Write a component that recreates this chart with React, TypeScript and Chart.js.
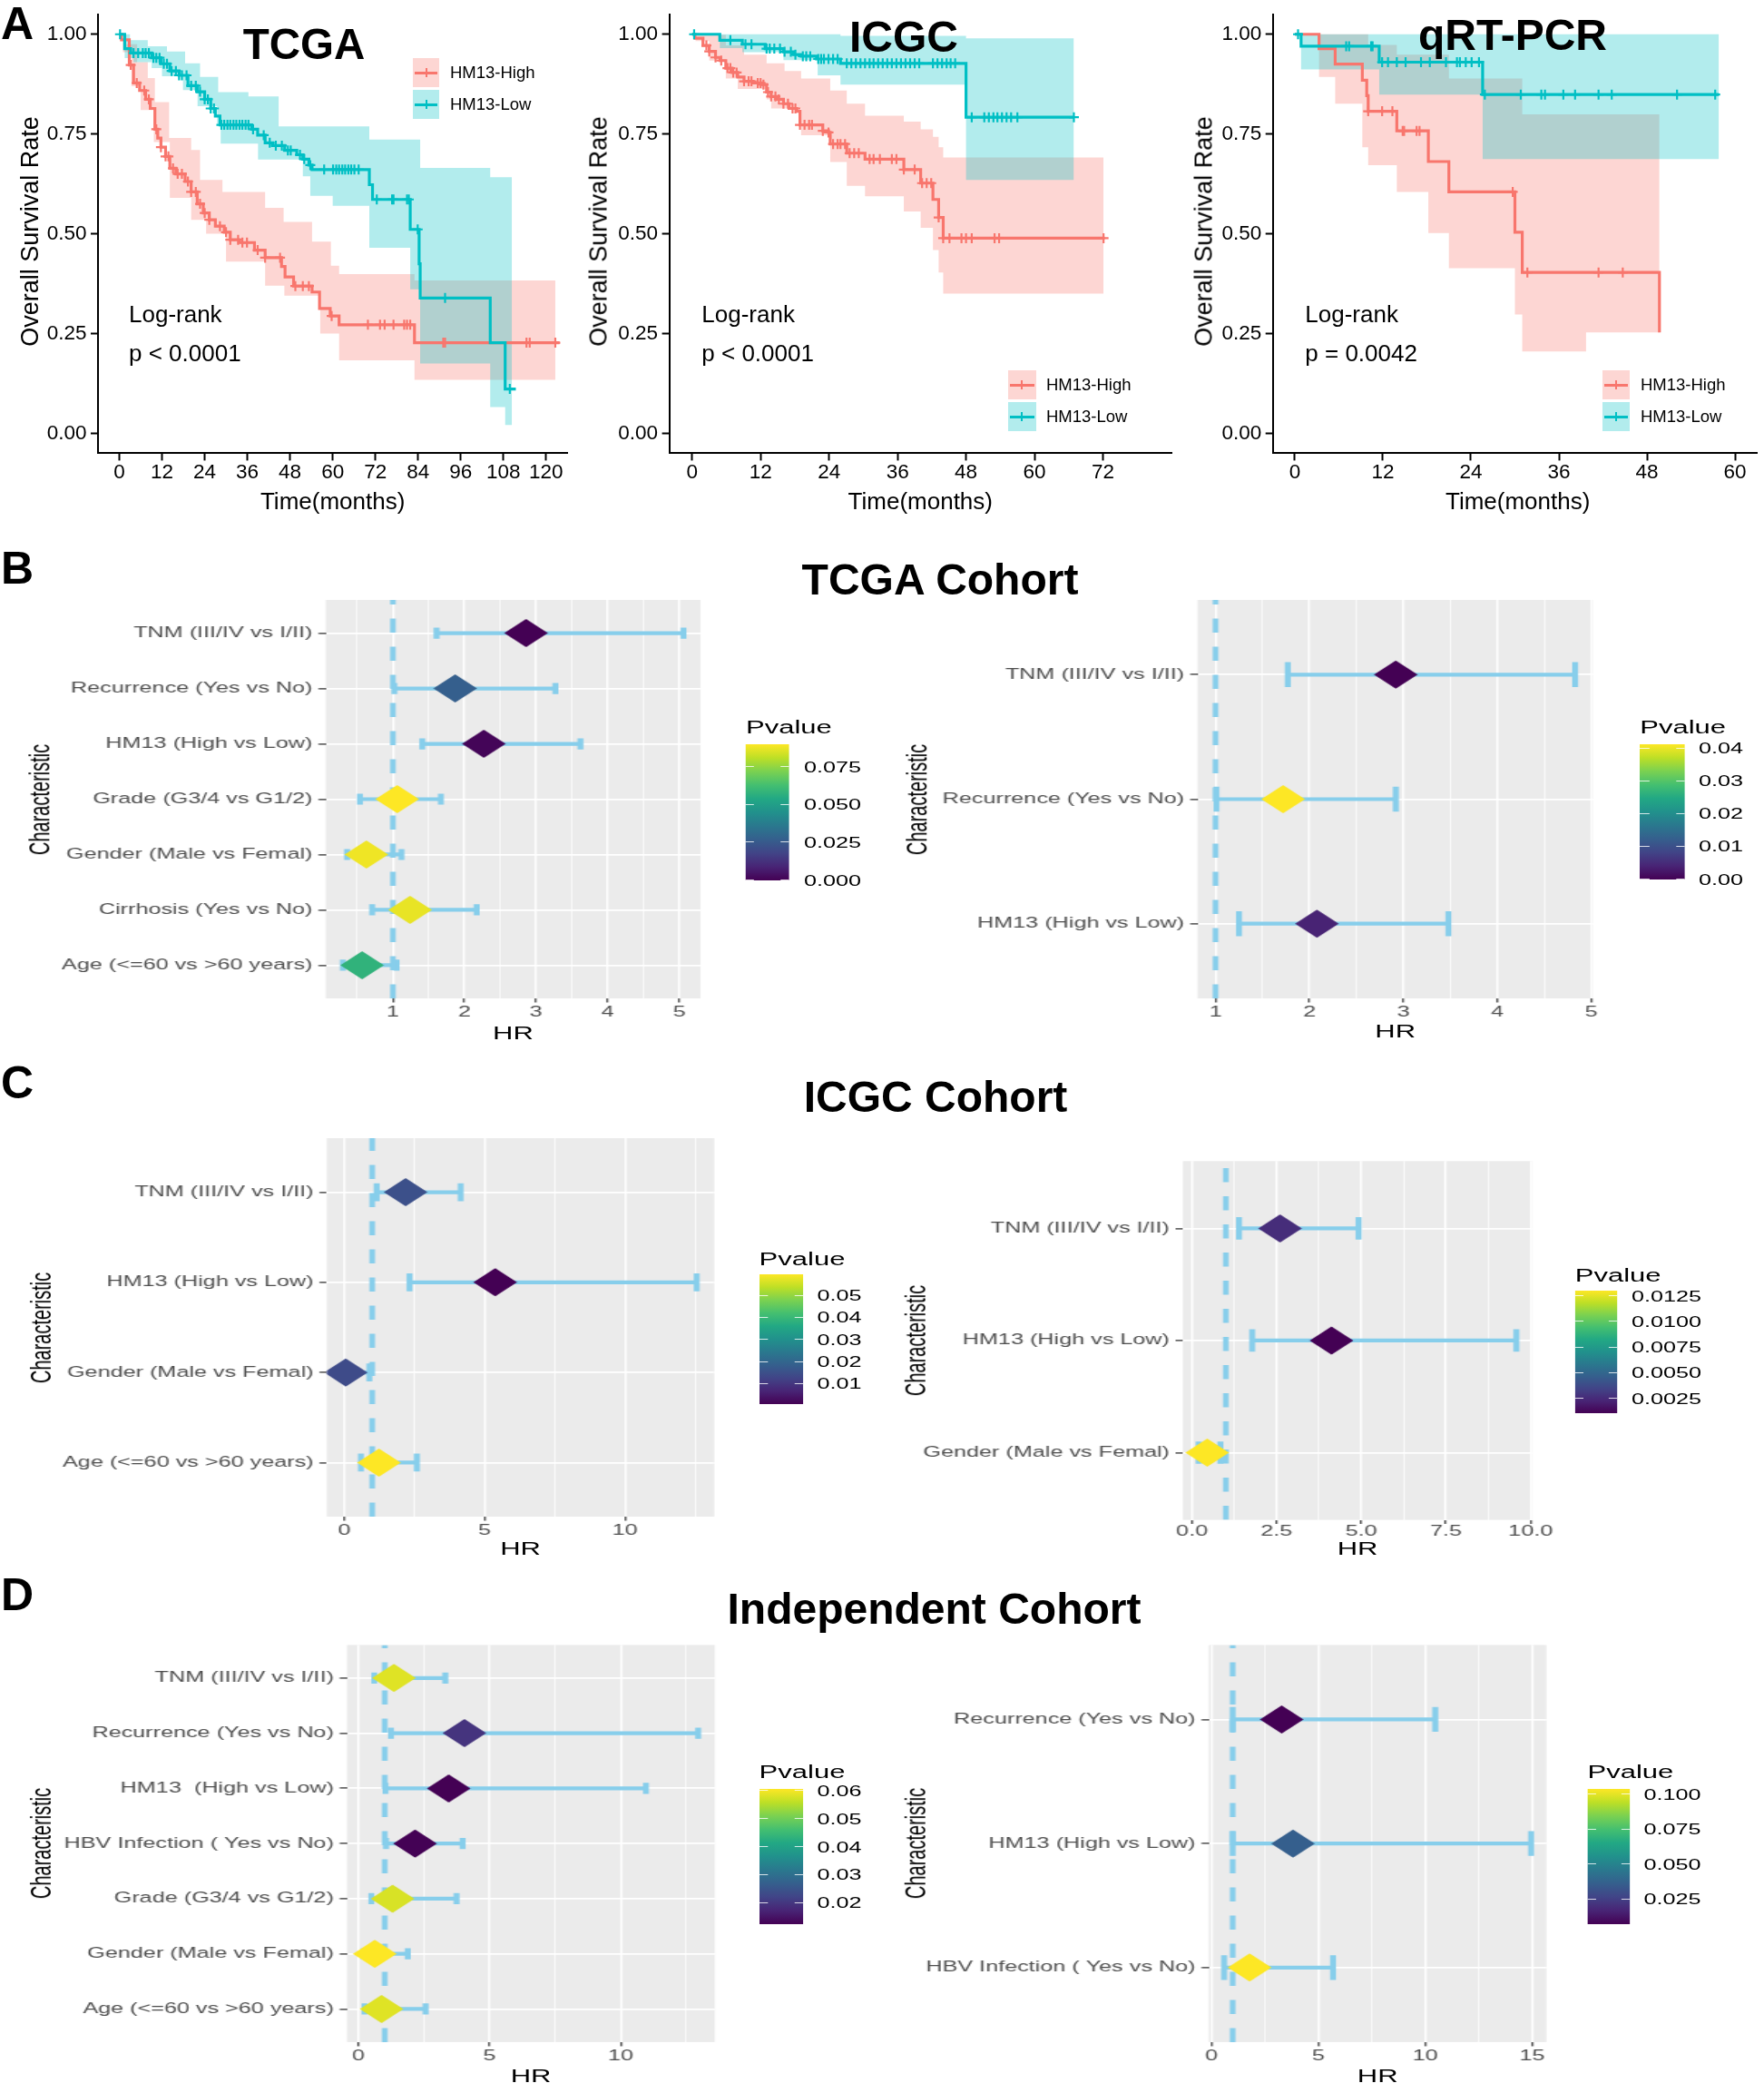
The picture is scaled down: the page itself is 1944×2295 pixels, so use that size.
import React, { useEffect, useRef } from 'react';
import { Chart, registerables } from 'chart.js';

Chart.register(...registerables);

const FONT = '"Liberation Sans", Arial, Helvetica, sans-serif';
const RED = '#F8766D';
const TEAL = '#00BFC4';
const RED_FILL = 'rgba(248,118,109,0.3)';
const TEAL_FILL = 'rgba(0,191,196,0.3)';
const SKY = '#87CEEB';
const SX = 1.55;
const STEP = 'before';

// ---------------- Kaplan-Meier data ----------------
const survTicks = [0, 0.25, 0.5, 0.75, 1];
const tcgaMonthTicks = [0, 12, 24, 36, 48, 60, 72, 84, 96, 108, 120];
const icgcMonthTicks = [0, 12, 24, 36, 48, 60, 72];
const qpcrMonthTicks = [0, 12, 24, 36, 48, 60];
const groupNames = ['HM13-High', 'HM13-Low'];

const tcgaHighTime = [0, 0.6, 2.8, 4.0, 5.7, 7.4, 8.7, 10.0, 10.8, 11.7, 13.0, 14.2, 15.9, 18.5, 20.2, 21.9, 23.6, 25.3, 27.0, 29.5, 31.2, 33.8, 38.0, 41.0, 45.6, 46.6, 49.0, 54.2, 56.3, 59.3, 61.8, 83.0, 123.8];
const tcgaHighSurv = [1, 0.986, 0.923, 0.878, 0.859, 0.837, 0.814, 0.762, 0.740, 0.717, 0.694, 0.664, 0.650, 0.631, 0.605, 0.575, 0.552, 0.535, 0.519, 0.504, 0.485, 0.478, 0.459, 0.440, 0.418, 0.392, 0.369, 0.354, 0.313, 0.294, 0.272, 0.227, 0.227];
const tcgaHighUpperTime = [0, 2, 5, 8, 10, 14, 20.2, 22.7, 29, 41, 46.2, 54.2, 59.5, 61.8, 83.0, 122.6];
const tcgaHighUpper = [1, 0.975, 0.93, 0.89, 0.83, 0.74, 0.71, 0.635, 0.605, 0.565, 0.53, 0.48, 0.42, 0.399, 0.383, 0.383];
const tcgaHighLowerTime = [0, 1, 3.4, 6, 9.7, 14.2, 20.2, 24.4, 30, 41, 46.4, 56.5, 61.8, 83.0, 122.6];
const tcgaHighLower = [1, 0.955, 0.87, 0.81, 0.73, 0.59, 0.535, 0.5, 0.43, 0.37, 0.345, 0.25, 0.183, 0.134, 0.134];
const tcgaHighCensor = [3.2, 4.9, 7.0, 8.3, 10.4, 11.7, 13.0, 13.8, 15.1, 16.4, 17.6, 19.3, 20.2, 21.5, 22.7, 24.0, 25.3, 28.3, 30.0, 31.2, 33.4, 34.6, 35.9, 38.9, 41.0, 45.2, 49.5, 51.6, 53.3, 59.7, 69.9, 73.3, 74.6, 77.1, 80.1, 80.9, 81.8, 91.1, 91.6, 114.5, 115.4, 122.6];

const tcgaLowTime = [0, 1.5, 3.2, 9.1, 11.7, 14.2, 16.8, 19.3, 21.9, 24.0, 25.7, 27.0, 28.3, 37.2, 38.9, 41.0, 43.1, 46.5, 49.9, 51.6, 53.3, 54.2, 70.3, 71.2, 81.8, 84.3, 84.6, 104.3, 108.5, 111.5];
const tcgaLowSurv = [1, 0.964, 0.953, 0.941, 0.926, 0.908, 0.897, 0.871, 0.856, 0.837, 0.814, 0.795, 0.773, 0.762, 0.747, 0.728, 0.721, 0.709, 0.698, 0.687, 0.672, 0.661, 0.623, 0.586, 0.511, 0.425, 0.339, 0.227, 0.111, 0.111];
const tcgaLowUpperTime = [0, 3, 8, 13.4, 18.5, 22.7, 27.8, 36.3, 44.8, 70.3, 84.6, 104.3, 110.4];
const tcgaLowUpper = [1, 0.985, 0.97, 0.957, 0.927, 0.893, 0.855, 0.844, 0.769, 0.736, 0.665, 0.642, 0.642];
const tcgaLowLowerTime = [0, 1.5, 4, 9.1, 12, 17.9, 22, 27.5, 28.5, 39, 51.6, 53.7, 60, 70.3, 81.8, 84.6, 104.3, 108.5, 111.0];
const tcgaLowLower = [1, 0.94, 0.93, 0.915, 0.895, 0.86, 0.82, 0.775, 0.726, 0.686, 0.644, 0.595, 0.57, 0.465, 0.361, 0.175, 0.066, 0.021, 0.021];
const tcgaLowCensor = [0.2, 4.0, 5.3, 6.6, 7.4, 8.3, 9.6, 10.4, 11.3, 12.5, 13.4, 14.7, 15.9, 16.8, 17.6, 18.9, 20.2, 21.5, 22.7, 24.0, 24.9, 25.7, 26.6, 28.7, 29.5, 30.4, 31.2, 32.1, 32.9, 33.8, 34.6, 35.5, 36.3, 37.6, 40.6, 42.3, 44.0, 45.7, 47.4, 48.2, 50.8, 52.0, 53.7, 57.6, 60.1, 61.0, 61.8, 62.7, 63.5, 64.4, 65.2, 66.1, 67.3, 72.4, 76.7, 77.1, 80.9, 81.4, 83.9, 91.6, 109.8];

const icgcHighTime = [0, 0.5, 1.9, 3.0, 4.1, 4.9, 5.9, 7.0, 8.0, 9.1, 10.7, 12.3, 13.05, 13.85, 14.9, 16.0, 17.0, 18.35, 18.9, 22.9, 23.9, 24.2, 27.1, 30.3, 37.1, 40.05, 42.2, 43.2, 44.0, 72.3];
const icgcHighSurv = [1, 0.99, 0.972, 0.957, 0.942, 0.934, 0.915, 0.904, 0.893, 0.882, 0.878, 0.874, 0.855, 0.844, 0.837, 0.826, 0.814, 0.807, 0.773, 0.758, 0.754, 0.725, 0.702, 0.687, 0.661, 0.627, 0.586, 0.541, 0.489, 0.489];
const icgcHighUpperTime = [0, 0.6, 5.9, 9.1, 13.05, 16.2, 19.1, 24.2, 27.1, 30.3, 37.1, 40.05, 42.2, 43.2, 44.0, 72.1];
const icgcHighUpper = [1, 0.998, 0.972, 0.949, 0.927, 0.908, 0.889, 0.859, 0.826, 0.796, 0.781, 0.762, 0.743, 0.717, 0.691, 0.691];
const icgcHighLowerTime = [0, 0.6, 3.0, 5.9, 8.0, 13.05, 13.85, 19.1, 24.2, 27.1, 30.3, 37.1, 40.05, 42.2, 43.2, 44.0, 72.1];
const icgcHighLower = [1, 0.983, 0.934, 0.889, 0.863, 0.837, 0.814, 0.747, 0.680, 0.620, 0.594, 0.556, 0.515, 0.459, 0.403, 0.350, 0.350];
const icgcHighCensor = [2.5, 3.0, 4.1, 5.1, 6.2, 6.7, 7.2, 7.8, 9.1, 9.9, 10.4, 11.5, 12.0, 12.5, 13.3, 13.85, 14.6, 15.2, 16.0, 16.8, 17.6, 18.1, 18.9, 19.7, 20.5, 21.0, 22.9, 23.9, 24.7, 25.5, 26.0, 26.8, 27.6, 28.4, 29.2, 31.1, 31.8, 32.9, 35.0, 35.8, 37.1, 39.0, 40.3, 41.1, 41.9, 43.2, 44.0, 45.1, 47.2, 48.0, 49.0, 53.0, 53.8, 72.1];

const icgcLowTime = [0, 4.85, 8.8, 12.8, 16.0, 17.8, 19.1, 21.8, 26.0, 48.0, 66.9];
const icgcLowSurv = [1, 0.985, 0.975, 0.964, 0.956, 0.949, 0.945, 0.938, 0.927, 0.792, 0.792];
const icgcLowUpperTime = [0, 26, 48, 66.9];
const icgcLowUpper = [1, 0.996, 0.99, 0.99];
const icgcLowLowerTime = [0, 4.85, 8.8, 16, 22, 26, 48, 66.9];
const icgcLowLower = [1, 0.965, 0.955, 0.935, 0.897, 0.874, 0.635, 0.635];
const icgcLowCensor = [0.35, 6.7, 9.35, 10.4, 13.05, 13.6, 14.4, 15.4, 16.2, 17.3, 18.1, 19.4, 20.0, 20.7, 22.1, 22.6, 23.1, 23.9, 24.7, 25.5, 27.1, 27.9, 28.7, 29.5, 30.3, 31.1, 31.8, 32.6, 33.4, 34.2, 35.0, 35.8, 36.6, 37.4, 38.2, 39.0, 39.8, 42.2, 43.0, 43.8, 44.6, 45.3, 46.1, 49.0, 51.2, 52.0, 52.8, 53.5, 54.3, 55.1, 55.9, 57.0, 66.9];

const qpcrHighTime = [0, 3.3, 5.5, 9.2, 9.8, 10.0, 13.9, 18.2, 21.0, 30.0, 31.0, 49.7];
const qpcrHighSurv = [1, 0.964, 0.925, 0.885, 0.846, 0.807, 0.758, 0.681, 0.605, 0.504, 0.403, 0.253];
const qpcrHighUpperTime = [0, 10.0, 13.9, 21.0, 31.0, 49.7];
const qpcrHighUpper = [1, 0.973, 0.949, 0.889, 0.799, 0.799];
const qpcrHighLowerTime = [0, 3.3, 5.5, 9.2, 10.0, 13.9, 18.2, 21.0, 30.0, 31.0, 39.7, 49.7];
const qpcrHighLower = [1, 0.893, 0.826, 0.717, 0.672, 0.605, 0.502, 0.414, 0.298, 0.205, 0.253, 0.253];
const qpcrHighCensor = [10.0, 11.9, 13.3, 14.7, 14.9, 16.6, 17.0, 29.7, 31.7, 41.4, 44.7];

const qpcrLowTime = [0, 0.85, 11.5, 25.6, 57.8];
const qpcrLowSurv = [1, 0.970, 0.930, 0.849, 0.849];
const qpcrLowUpperTime = [0, 57.8];
const qpcrLowUpper = [1, 1];
const qpcrLowLowerTime = [0, 0.85, 11.5, 25.6, 57.8];
const qpcrLowLower = [1, 0.912, 0.849, 0.687, 0.687];
const qpcrLowCensor = [0.44, 7.0, 7.4, 10.4, 10.6, 11.9, 12.7, 13.9, 15.1, 17.2, 18.4, 20.6, 22.1, 22.5, 23.3, 24.1, 25.1, 25.9, 30.8, 33.6, 34.1, 36.6, 38.2, 41.4, 43.2, 52.1, 57.3];

// ---------------- Forest plot data ----------------
const hrReference = 1;

const tcgaUniLabels = ['TNM (III/IV vs I/II)', 'Recurrence (Yes vs No)', 'HM13 (High vs Low)', 'Grade (G3/4 vs G1/2)', 'Gender (Male vs Femal)', 'Cirrhosis (Yes vs No)', 'Age (<=60 vs >60 years)'];
const tcgaUniHR = [2.86, 1.87, 2.27, 1.06, 0.63, 1.24, 0.57];
const tcgaUniLow = [1.61, 1.02, 1.41, 0.54, 0.36, 0.71, 0.30];
const tcgaUniHigh = [5.06, 3.27, 3.62, 1.67, 1.12, 2.17, 1.05];
const tcgaUniP = [0, 0.027, 0.001, 0.090, 0.088, 0.087, 0.058];
const tcgaUniPTicks = [0, 0.025, 0.05, 0.075];
const tcgaUniHRTicks = [1, 2, 3, 4, 5];
const tcgaUniHRMinor = [0.5, 1.5, 2.5, 3.5, 4.5];

const tcgaMultiLabels = ['TNM (III/IV vs I/II)', 'Recurrence (Yes vs No)', 'HM13 (High vs Low)'];
const tcgaMultiHR = [2.92, 1.72, 2.08];
const tcgaMultiLow = [1.77, 1.01, 1.25];
const tcgaMultiHigh = [4.83, 2.92, 3.48];
const tcgaMultiP = [0, 0.0413, 0.004];
const tcgaMultiPTicks = [0, 0.01, 0.02, 0.03, 0.04];
const tcgaMultiHRTicks = [1, 2, 3, 4, 5];
const tcgaMultiHRMinor = [1.5, 2.5, 3.5, 4.5];

const icgcUniLabels = ['TNM (III/IV vs I/II)', 'HM13 (High vs Low)', 'Gender (Male vs Femal)', 'Age (<=60 vs >60 years)'];
const icgcUniHR = [2.19, 5.38, 0.06, 1.24];
const icgcUniLow = [1.16, 2.33, 0.01, 0.6];
const icgcUniHigh = [4.15, 12.55, 0.90, 2.59];
const icgcUniP = [0.015, 0.0007, 0.014, 0.0593];
const icgcUniPTicks = [0.01, 0.02, 0.03, 0.04, 0.05];
const icgcUniHRTicks = [0, 5, 10];
const icgcUniHRMinor = [2.5, 7.5, 12.5];

const icgcMultiLabels = ['TNM (III/IV vs I/II)', 'HM13 (High vs Low)', 'Gender (Male vs Femal)'];
const icgcMultiHR = [2.60, 4.12, 0.45];
const icgcMultiLow = [1.39, 1.78, 0.2];
const icgcMultiHigh = [4.92, 9.58, 0.84];
const icgcMultiP = [0.0026, 0.00106, 0.01304];
const icgcMultiPTicks = [0.0025, 0.005, 0.0075, 0.01, 0.0125];
const icgcMultiHRTicks = [0, 2.5, 5, 7.5, 10];
const icgcMultiHRMinor = [1.25, 3.75, 6.25, 8.75];

const indepUniLabels = ['TNM (III/IV vs I/II)', 'Recurrence (Yes vs No)', 'HM13  (High vs Low)', 'HBV Infection ( Yes vs No)', 'Grade (G3/4 vs G1/2)', 'Gender (Male vs Femal)', 'Age (<=60 vs >60 years)'];
const indepUniHR = [1.35, 4.04, 3.44, 2.16, 1.30, 0.62, 0.88];
const indepUniLow = [0.60, 1.24, 1.03, 1.05, 0.49, 0.20, 0.23];
const indepUniHigh = [3.31, 12.95, 10.96, 3.97, 3.74, 1.88, 2.56];
const indepUniP = [0.0585, 0.0194, 0.0121, 0.0123, 0.058, 0.0608, 0.0585];
const indepUniPTicks = [0.02, 0.03, 0.04, 0.05, 0.06];
const indepUniHRTicks = [0, 5, 10];
const indepUniHRMinor = [2.5, 7.5, 12.5];

const indepMultiLabels = ['Recurrence (Yes vs No)', 'HM13 (High vs Low)', 'HBV Infection ( Yes vs No)'];
const indepMultiHR = [3.29, 3.82, 1.79];
const indepMultiLow = [1.0, 1.0, 0.6];
const indepMultiHigh = [10.47, 14.95, 5.69];
const indepMultiP = [0.0067, 0.036, 0.104];
const indepMultiPTicks = [0.025, 0.05, 0.075, 0.1];
const indepMultiHRTicks = [0, 5, 10, 15];
const indepMultiHRMinor = [2.5, 7.5, 12.5];

// ---------------- helpers ----------------
const VIRIDIS = ['#440154', '#482475', '#414487', '#355F8D', '#2A788E', '#21918C', '#22A884', '#44BF70', '#7AD151', '#BDDF26', '#FDE725'];
const VIRIDIS_GRADIENT = `linear-gradient(to top, ${VIRIDIS.map((c, i) => `${c} ${i * 10}%`).join(', ')})`;
function hexToRgb(h: string) {
  const n = parseInt(h.slice(1), 16);
  return [(n >> 16) & 255, (n >> 8) & 255, n & 255];
}
function viridis(t: number) {
  const tt = Math.max(0, Math.min(1, t));
  const s = tt * 10;
  const i = Math.min(9, Math.floor(s));
  const f = s - i;
  const a = hexToRgb(VIRIDIS[i]);
  const b = hexToRgb(VIRIDIS[i + 1]);
  const c = a.map((v, k) => Math.round(v + (b[k] - v) * f));
  return `rgb(${c[0]},${c[1]},${c[2]})`;
}
function stepAt(ts: number[], ss: number[], t: number) {
  let v = ss[0];
  for (let i = 0; i < ts.length; i++) if (ts[i] <= t) v = ss[i];
  return v;
}
const pairs = (xs: number[], ys: number[]) => xs.map((x, i) => ({ x, y: ys[i] }));

function Txt({ x, y, size, children, bold = false, anchor = 'start', rotate = false, color = '#000' }: any) {
  let transform = anchor === 'middle' ? 'translate(-50%,-50%)' : anchor === 'end' ? 'translate(-100%,-50%)' : 'translate(0,-50%)';
  if (rotate) transform = 'translate(-50%,-50%) rotate(-90deg)';
  return (
    <div style={{ position: 'absolute', left: x, top: y, fontSize: size, lineHeight: 1, fontWeight: bold ? 700 : 400, color, whiteSpace: 'pre', fontFamily: FONT, transform }}>
      {children}
    </div>
  );
}

// ---------------- KM panels ----------------
function group(time, surv, upT, up, loT, lo, censor, color, fill, name) {
  return { time, surv, upT, up, loT, lo, censor, color, fill, name };
}

const KM_PANELS = [
  {
    key: 'tcga', left: 0, top: 0, w: 645, h: 580, area: { l: 108, t: 10.3, r: 625.3, b: 499.4 },
    xMin: -6, xMax: 126, xTicks: tcgaMonthTicks, title: 'TCGA', titleX: 335, titleY: 48.7, titleSize: 47.5,
    logX: 142, pText: 'p < 0.0001', legend: { x: 455, y: 64, w: 29, textX: 496 }, yTitleX: 33,
    groups: [
      group(tcgaHighTime, tcgaHighSurv, tcgaHighUpperTime, tcgaHighUpper, tcgaHighLowerTime, tcgaHighLower, tcgaHighCensor, RED, RED_FILL, groupNames[0]),
      group(tcgaLowTime, tcgaLowSurv, tcgaLowUpperTime, tcgaLowUpper, tcgaLowLowerTime, tcgaLowLower, tcgaLowCensor, TEAL, TEAL_FILL, groupNames[1]),
    ],
  },
  {
    key: 'icgc', left: 645, top: 0, w: 655, h: 580, area: { l: 92.6, t: 10.3, r: 646, b: 499.4 },
    xMin: -4, xMax: 84, xTicks: icgcMonthTicks, title: 'ICGC', titleX: 996, titleY: 40.8, titleSize: 48,
    logX: 773.3, pText: 'p < 0.0001', legend: { x: 1110.7, y: 408.3, w: 31, textX: 1153 }, yTitleX: 659.7,
    groups: [
      group(icgcHighTime, icgcHighSurv, icgcHighUpperTime, icgcHighUpper, icgcHighLowerTime, icgcHighLower, icgcHighCensor, RED, RED_FILL, groupNames[0]),
      group(icgcLowTime, icgcLowSurv, icgcLowUpperTime, icgcLowUpper, icgcLowLowerTime, icgcLowLower, icgcLowCensor, TEAL, TEAL_FILL, groupNames[1]),
    ],
  },
  {
    key: 'qpcr', left: 1300, top: 0, w: 644, h: 580, area: { l: 102.7, t: 10.3, r: 642.7, b: 499.4 },
    xMin: -3, xMax: 63, xTicks: qpcrMonthTicks, title: 'qRT-PCR', titleX: 1667, titleY: 39.2, titleSize: 48,
    logX: 1438.3, pText: 'p = 0.0042', legend: { x: 1766, y: 408.3, w: 30, textX: 1808 }, yTitleX: 1326.7,
    groups: [
      group(qpcrHighTime, qpcrHighSurv, qpcrHighUpperTime, qpcrHighUpper, qpcrHighLowerTime, qpcrHighLower, qpcrHighCensor, RED, RED_FILL, groupNames[0]),
      group(qpcrLowTime, qpcrLowSurv, qpcrLowUpperTime, qpcrLowUpper, qpcrLowLowerTime, qpcrLowLower, qpcrLowCensor, TEAL, TEAL_FILL, groupNames[1]),
    ],
  },
];

function KMPanel({ p }: any) {
  const ref = useRef<HTMLCanvasElement | null>(null);
  useEffect(() => {
    const canvas = ref.current;
    if (!canvas) return;
    const datasets: any[] = [];
    p.groups.forEach((g: any, gi: number) => {
      const ord = gi === 0 ? 40 : 30;
      datasets.push({ type: 'line', data: pairs(g.loT, g.lo), stepped: STEP, borderWidth: 0, borderColor: 'transparent', pointRadius: 0, fill: false, order: ord });
      datasets.push({ type: 'line', data: pairs(g.upT, g.up), stepped: STEP, borderWidth: 0, borderColor: 'transparent', backgroundColor: g.fill, pointRadius: 0, fill: '-1', order: ord });
    });
    p.groups.forEach((g: any, gi: number) => {
      const ord = gi === 0 ? 21 : 11;
      datasets.push({ type: 'line', data: pairs(g.time, g.surv), stepped: STEP, borderColor: g.color, borderWidth: 3.2, pointRadius: 0, fill: false, order: ord });
      datasets.push({
        type: 'scatter', data: g.censor.map((t: number) => ({ x: t, y: stepAt(g.time, g.surv, t) })), showLine: false,
        pointStyle: 'cross', pointRadius: 5.5, pointBorderWidth: 2.2, pointBorderColor: g.color, pointBackgroundColor: g.color,
        borderColor: g.color, backgroundColor: g.color, order: ord - 1,
      });
    });
    const a = p.area;
    const tickFont = { family: FONT, size: 22.5, lineHeight: 1 };
    const chart = new Chart(canvas, {
      type: 'line',
      data: { datasets },
      options: {
        responsive: false, maintainAspectRatio: false, animation: false, devicePixelRatio: 1, events: [],
        layout: { padding: { left: 0, top: a.t, right: p.w - a.r, bottom: 0 } },
        plugins: { legend: { display: false }, tooltip: { enabled: false } },
        scales: {
          x: {
            type: 'linear', min: p.xMin, max: p.xMax, bounds: 'data',
            afterBuildTicks: (s: any) => { s.ticks = p.xTicks.map((v: number) => ({ value: v })); },
            afterFit: (s: any) => { s.height = p.h - a.b; },
            grid: { display: true, drawOnChartArea: false, drawTicks: true, tickLength: 8, tickWidth: 2, tickColor: '#000' },
            border: { display: true, color: '#000', width: 2 },
            ticks: { color: '#000', font: tickFont, padding: 2, autoSkip: false, maxRotation: 0, callback: (v: any) => String(v) },
          },
          y: {
            type: 'linear', min: -0.05, max: 1.05, bounds: 'data',
            afterBuildTicks: (s: any) => { s.ticks = survTicks.map((v) => ({ value: v })); },
            afterFit: (s: any) => { s.width = a.l; },
            grid: { display: true, drawOnChartArea: false, drawTicks: true, tickLength: 8, tickWidth: 2, tickColor: '#000' },
            border: { display: true, color: '#000', width: 2 },
            ticks: { color: '#000', font: tickFont, padding: 4.5, autoSkip: false, callback: (v: any) => Number(v).toFixed(2) },
          },
        },
      } as any,
    });
    return () => chart.destroy();
  }, [p]);

  const a = p.area;
  return (
    <>
      <canvas ref={ref} width={p.w} height={p.h} style={{ position: 'absolute', left: p.left, top: p.top, width: p.w, height: p.h }} />
      <Txt x={p.titleX} y={p.titleY} size={p.titleSize} bold anchor="middle">{p.title}</Txt>
      <Txt x={p.logX} y={346} size={26}>Log-rank</Txt>
      <Txt x={p.logX} y={389} size={26}>{p.pText}</Txt>
      {p.groups.map((g: any, gi: number) => {
        const top = p.legend.y + gi * 35;
        return (
          <React.Fragment key={gi}>
            <div style={{ position: 'absolute', left: p.legend.x, top, width: p.legend.w, height: 32, background: g.fill }} />
            <div style={{ position: 'absolute', left: p.legend.x + 2, top: top + 14.5, width: p.legend.w - 4, height: 3, background: g.color }} />
            <div style={{ position: 'absolute', left: p.legend.x + p.legend.w / 2 - 1, top: top + 11, width: 2, height: 10, background: g.color }} />
            <Txt x={p.legend.textX} y={top + 16} size={18.5}>{g.name}</Txt>
          </React.Fragment>
        );
      })}
      <Txt x={p.left + (a.l + a.r) / 2} y={551.5} size={26} anchor="middle">Time(months)</Txt>
      <Txt x={p.yTitleX} y={p.top + (a.t + a.b) / 2} size={27} rotate>Overall Survival Rate</Txt>
    </>
  );
}

// ---------------- Forest panels ----------------
function forest(key, labels, hr, lo, hi, p, pTicks, pDigits, xTicks, xMinor, xDigits, geo) {
  return { key, labels, hr, lo, hi, p, pTicks, pDigits, xTicks, xMinor, xDigits, ...geo };
}

const FOREST_PANELS = [
  forest('bL', tcgaUniLabels, tcgaUniHR, tcgaUniLow, tcgaUniHigh, tcgaUniP, tcgaUniPTicks, 3, tcgaUniHRTicks, tcgaUniHRMinor, 0, {
    wrap: { l: 0, t: 590, w: 970, h: 570 }, area: { l: 359, r: 772, t: 661, b: 1100 }, cbar: { l: 822, r: 869, t: 819.5, b: 969.6 },
    pTitleY: 801.3, labelX: 886, charX: 43, hrY: 1137.5, xLabelY: 1115.7,
  }),
  forest('bR', tcgaMultiLabels, tcgaMultiHR, tcgaMultiLow, tcgaMultiHigh, tcgaMultiP, tcgaMultiPTicks, 2, tcgaMultiHRTicks, tcgaMultiHRMinor, 0, {
    wrap: { l: 970, t: 590, w: 974, h: 570 }, area: { l: 1319.7, r: 1755.7, t: 661, b: 1100 }, cbar: { l: 1807.3, r: 1857, t: 819.5, b: 968.5 },
    pTitleY: 801.3, labelX: 1871.9, charX: 1010.4, hrY: 1135.7, xLabelY: 1115.7,
  }),
  forest('cL', icgcUniLabels, icgcUniHR, icgcUniLow, icgcUniHigh, icgcUniP, icgcUniPTicks, 2, icgcUniHRTicks, icgcUniHRMinor, 0, {
    wrap: { l: 0, t: 1160, w: 970, h: 560 }, area: { l: 360.1, r: 787.1, t: 1254, b: 1671 }, cbar: { l: 836.6, r: 884.9, t: 1404.4, b: 1547.1 },
    pTitleY: 1387.4, labelX: 900.4, charX: 44.6, hrY: 1706.4, xLabelY: 1686.5,
  }),
  forest('cR', icgcMultiLabels, icgcMultiHR, icgcMultiLow, icgcMultiHigh, icgcMultiP, icgcMultiPTicks, 4, icgcMultiHRTicks, icgcMultiHRMinor, 1, {
    wrap: { l: 970, t: 1160, w: 974, h: 560 }, area: { l: 1303.5, r: 1688.6, t: 1279.3, b: 1674.6 }, cbar: { l: 1735.8, r: 1782.4, t: 1421.7, b: 1556.8 },
    pTitleY: 1404.7, labelX: 1797.9, charX: 1008.5, hrY: 1706.4, xLabelY: 1687.6,
  }),
  forest('dL', indepUniLabels, indepUniHR, indepUniLow, indepUniHigh, indepUniP, indepUniPTicks, 2, indepUniHRTicks, indepUniHRMinor, 0, {
    wrap: { l: 0, t: 1725, w: 970, h: 570 }, area: { l: 382.4, r: 787.8, t: 1812.4, b: 2249.9 }, cbar: { l: 836.6, r: 884.9, t: 1970.5, b: 2120.4 },
    pTitleY: 1951.8, labelX: 900.4, charX: 44.6, hrY: 2286.6, xLabelY: 2265.7,
  }),
  forest('dR', indepMultiLabels, indepMultiHR, indepMultiLow, indepMultiHigh, indepMultiP, indepMultiPTicks, 3, indepMultiHRTicks, indepMultiHRMinor, 0, {
    wrap: { l: 970, t: 1725, w: 974, h: 570 }, area: { l: 1332.1, r: 1704.2, t: 1812.4, b: 2249.9 }, cbar: { l: 1749.5, r: 1796.1, t: 1970.5, b: 2120.4 },
    pTitleY: 1951.8, labelX: 1811.6, charX: 1008.5, hrY: 2286.6, xLabelY: 2265.7,
  }),
];

const forestDecor = {
  id: 'forestDecor',
  beforeDraw(chart: any) {
    const { ctx, chartArea: a } = chart;
    ctx.save();
    ctx.fillStyle = '#EBEBEB';
    ctx.fillRect(a.left, a.top, a.right - a.left, a.bottom - a.top);
    ctx.restore();
  },
  beforeDatasetsDraw(chart: any) {
    const { ctx, chartArea: a } = chart;
    const ds = chart.data.datasets[0];
    const xs = chart.scales.x;
    const ys = chart.scales.y;
    ctx.save();
    ctx.beginPath();
    ctx.rect(a.left, a.top, a.right - a.left, a.bottom - a.top);
    ctx.clip();
    ctx.strokeStyle = SKY;
    const rowH = Math.abs(ys.getPixelForValue(1) - ys.getPixelForValue(0));
    const cap = rowH * 0.1;
    ctx.lineWidth = 4.2;
    ds.errLo.forEach((lo: number, i: number) => {
      const y = ys.getPixelForValue(i);
      const x0 = xs.getPixelForValue(lo);
      const x1 = xs.getPixelForValue(ds.errHi[i]);
      ctx.beginPath();
      ctx.moveTo(x0, y); ctx.lineTo(x1, y);
      ctx.moveTo(x0, y - cap); ctx.lineTo(x0, y + cap);
      ctx.moveTo(x1, y - cap); ctx.lineTo(x1, y + cap);
      ctx.stroke();
    });
    const xr = xs.getPixelForValue(ds.refLine);
    ctx.lineWidth = 4;
    ctx.setLineDash([15.5, 15.5]);
    ctx.beginPath();
    ctx.moveTo(xr, a.bottom);
    ctx.lineTo(xr, a.top);
    ctx.stroke();
    ctx.restore();
  },
};

function ForestPanel({ f }: any) {
  const ref = useRef<HTMLCanvasElement | null>(null);
  const cw = Math.round(f.wrap.w / SX);
  const ch = f.wrap.h;
  const vx = (x: number) => (x - f.wrap.l) / SX;
  const vy = (y: number) => y - f.wrap.t;
  const pmin = Math.min(...f.p);
  const pmax = Math.max(...f.p);

  useEffect(() => {
    const canvas = ref.current;
    if (!canvas) return;
    const n = f.labels.length;
    const all = [...f.lo, ...f.hi, hrReference];
    const dmin = Math.min(...all);
    const dmax = Math.max(...all);
    const pad = (dmax - dmin) * 0.05;
    const area = { l: vx(f.area.l), r: vx(f.area.r), t: vy(f.area.t), b: vy(f.area.b) };
    const colors = f.p.map((p: number) => viridis((p - pmin) / (pmax - pmin)));
    const isMinor = (v: number) => f.xMinor.some((m: number) => Math.abs(m - v) < 1e-9);
    const xTickLen = 4.5;
    const xFont = 16.25;
    const chart = new Chart(canvas, {
      type: 'scatter',
      data: {
        datasets: [{
          data: f.hr.map((h: number, i: number) => ({ x: h, y: i })),
          backgroundColor: colors, borderWidth: 0, pointStyle: 'rectRot', pointRadius: 15.5, pointHoverRadius: 15.5,
          clip: 0, errLo: f.lo, errHi: f.hi, refLine: hrReference,
        } as any],
      },
      options: {
        responsive: false, maintainAspectRatio: false, animation: false, devicePixelRatio: 1, events: [],
        layout: { padding: { left: 0, top: area.t, right: cw - area.r, bottom: 0 } },
        plugins: { legend: { display: false }, tooltip: { enabled: false } },
        scales: {
          x: {
            type: 'linear', min: dmin - pad, max: dmax + pad, bounds: 'data',
            afterBuildTicks: (s: any) => {
              s.ticks = [...f.xTicks, ...f.xMinor].filter((v: number) => v >= dmin - pad && v <= dmax + pad).sort((a: number, b: number) => a - b).map((v: number) => ({ value: v }));
            },
            afterFit: (s: any) => { s.height = ch - area.b; },
            grid: {
              color: '#FFFFFF', lineWidth: (c: any) => (c.tick && isMinor(c.tick.value) ? 0.75 : 1.5),
              drawTicks: true, tickLength: xTickLen, tickWidth: 1.2,
              tickColor: (c: any) => (c.tick && isMinor(c.tick.value) ? 'rgba(0,0,0,0)' : '#333333'),
            },
            border: { display: false },
            ticks: {
              color: '#4D4D4D', font: { family: FONT, size: xFont, lineHeight: 1 },
              padding: Math.max(0, f.xLabelY - f.area.b - xTickLen - xFont / 2), autoSkip: false, maxRotation: 0,
              callback: (v: any) => (isMinor(Number(v)) ? '' : Number(v).toFixed(f.xDigits)),
            },
          },
          y: {
            type: 'linear', reverse: true, min: -0.6, max: n - 0.4, bounds: 'data',
            afterBuildTicks: (s: any) => { s.ticks = f.labels.map((_: string, i: number) => ({ value: i })); },
            afterFit: (s: any) => { s.width = area.l; },
            grid: { color: '#FFFFFF', lineWidth: 1.8, drawTicks: true, tickLength: 5.2, tickWidth: 1.3, tickColor: '#333333' },
            border: { display: false },
            ticks: {
              color: '#4D4D4D', font: { family: FONT, size: 16.25, lineHeight: 1 }, padding: 4.2, autoSkip: false,
              callback: (v: any) => f.labels[Math.round(Number(v))] ?? '',
            },
          },
        },
      } as any,
      plugins: [forestDecor],
    });
    return () => chart.destroy();
  }, [f]);

  const cb = { l: vx(f.cbar.l), t: vy(f.cbar.t), w: (f.cbar.r - f.cbar.l) / SX, h: f.cbar.b - f.cbar.t };
  return (
    <div style={{ position: 'absolute', left: f.wrap.l, top: f.wrap.t, width: cw, height: ch, transform: `scaleX(${SX})`, transformOrigin: '0 0' }}>
      <canvas ref={ref} width={cw} height={ch} style={{ position: 'absolute', left: 0, top: 0, width: cw, height: ch }} />
      <Txt x={vx(f.charX)} y={vy((f.area.t + f.area.b) / 2)} size={20} rotate>Characteristic</Txt>
      <Txt x={vx((f.area.l + f.area.r) / 2)} y={vy(f.hrY)} size={20} anchor="middle">HR</Txt>
      <Txt x={cb.l} y={vy(f.pTitleY)} size={20}>Pvalue</Txt>
      <div style={{ position: 'absolute', left: cb.l, top: cb.t, width: cb.w, height: cb.h, background: VIRIDIS_GRADIENT }} />
      {f.pTicks.map((v: number, i: number) => {
        const y = cb.t + cb.h - ((v - pmin) / (pmax - pmin)) * cb.h;
        return (
          <React.Fragment key={i}>
            <div style={{ position: 'absolute', left: cb.l, top: y - 0.5, width: cb.w / 5, height: 1, background: 'rgba(255,255,255,0.8)' }} />
            <div style={{ position: 'absolute', left: cb.l + cb.w * 0.8, top: y - 0.5, width: cb.w / 5, height: 1, background: 'rgba(255,255,255,0.8)' }} />
            <Txt x={vx(f.labelX)} y={y} size={16.25}>{v.toFixed(f.pDigits)}</Txt>
          </React.Fragment>
        );
      })}
    </div>
  );
}

// ---------------- App ----------------
const panelLetters = [
  { t: 'A', y: 26 },
  { t: 'B', y: 626 },
  { t: 'C', y: 1193 },
  { t: 'D', y: 1756.6 },
];
const cohortTitles = [
  { t: 'TCGA Cohort', x: 1036, y: 638.6 },
  { t: 'ICGC Cohort', x: 1031, y: 1209 },
  { t: 'Independent Cohort', x: 1029.5, y: 1773 },
];

export default function App() {
  return (
    <div style={{ position: 'absolute', left: 0, top: 0, width: 1944, height: 2295, background: '#FFFFFF', overflow: 'hidden', fontFamily: FONT }}>
      {KM_PANELS.map((p) => <KMPanel key={p.key} p={p} />)}
      {FOREST_PANELS.map((f) => <ForestPanel key={f.key} f={f} />)}
      {panelLetters.map((l) => <Txt key={l.t} x={1} y={l.y} size={50} bold>{l.t}</Txt>)}
      {cohortTitles.map((c) => <Txt key={c.t} x={c.x} y={c.y} size={48} bold anchor="middle">{c.t}</Txt>)}
    </div>
  );
}
